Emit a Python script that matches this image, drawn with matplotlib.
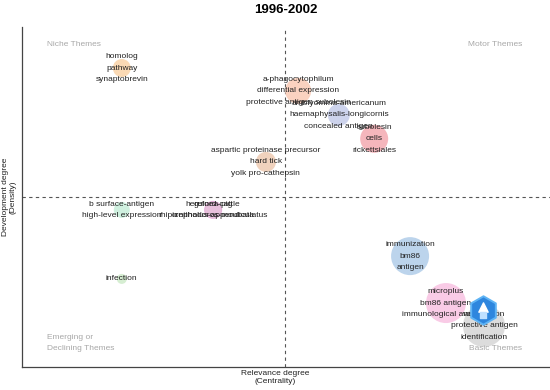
import matplotlib
matplotlib.use("Agg")
import matplotlib.pyplot as plt

plt.rcParams['font.family'] = ['Liberation Sans', 'DejaVu Sans']

title = "1996-2002"
# cluster centrality (x) and density (y)
centrality = [1.89, 5.23, 6.00, 6.67, 4.62, 1.89, 3.62, 3.62, 1.89, 7.35, 8.03, 8.75]
density = [8.79, 8.12, 7.41, 6.71, 6.03, 4.62, 4.62, 4.62, 2.59, 3.26, 1.88, 1.21]
bubble_size = [9, 13, 11, 14, 10, 8, 9, 8, 5, 19, 20, 21]
bubble_color = ['#fad9b4', '#fad2c0', '#cdd3ec', '#f5b6bc', '#f0d2bd', '#cff0df',
                '#e4b0d8', '#e8c0dc', '#d6eed2', '#bcd4ec', '#f9cbe6', '#dcdcdc']
cluster_labels = [
    ["homolog", "pathway", "synaptobrevin"],
    ["a-phagocytophilum", "differential expression", "protective antigen subolesin"],
    ["amblyomma-americanum", "haemaphysalis-longicornis", "concealed antigen"],
    ["subolesin", "cells", "rickettsiales"],
    ["aspartic proteinase precursor", "hard tick", "yolk pro-cathepsin"],
    ["b surface-antigen", "high-level expression"],
    ["hereford-cattle", "rhipicephalus-appendiculatus"],
    ["guinea-pig", "ornithodoros-moubata"],
    ["infection"],
    ["immunization", "bm86", "antigen"],
    ["microplus", "bm86 antigen", "immunological analysis"],
    ["vaccination", "protective antigen", "identification"],
]
x_mean = 4.98
y_mean = 5.0
quadrant_labels = ["Niche Themes", "Motor Themes", "Emerging or\nDeclining Themes", "Basic Themes"]

fig = plt.figure(figsize=(5.5, 3.9), dpi=100)
ax = fig.add_axes([0.04, 0.059, 0.96, 0.872])
ax.set_xlim(0, 10)
ax.set_ylim(0, 10)

for x, y, r, c in zip(centrality, density, bubble_size, bubble_color):
    ax.scatter([x], [y], s=(2 * r * 0.72) ** 2, color=c, edgecolors='none', zorder=2)

fs = 6.0
step = 0.345
for x, y, labs in zip(centrality, density, cluster_labels):
    n = len(labs)
    for i, t in enumerate(labs):
        yy = y + (n - 1) / 2 * step - i * step
        ax.text(x, yy, t, ha='center', va='center', fontsize=fs, color='#222222', zorder=3)

# logo-like hexagon marker
ax.scatter([8.73], [1.68], marker='h', s=420, color='#2e86de', edgecolors='#5fb4f5',
           linewidths=1.4, zorder=4)
ax.scatter([8.73], [1.77], marker='^', s=45, color='white', zorder=5)
ax.scatter([8.73], [1.53], marker='s', s=14, color='#bfe0ff', zorder=5)

ax.axvline(x_mean, color='#555555', linestyle=(0, (3, 3)), linewidth=0.8, zorder=1)
ax.axhline(y_mean, color='#555555', linestyle=(0, (3, 3)), linewidth=0.8, zorder=1)

qc = '#a8a8a8'
ax.text(0.47, 9.47, quadrant_labels[0], fontsize=fs, color=qc, ha='left', va='center')
ax.text(9.47, 9.47, quadrant_labels[1], fontsize=fs, color=qc, ha='right', va='center')
ax.text(0.47, 0.71, quadrant_labels[2], fontsize=fs, color=qc, ha='left', va='center',
        linespacing=1.75)
ax.text(9.47, 0.53, quadrant_labels[3], fontsize=fs, color=qc, ha='right', va='center')

for s in ['top', 'right']:
    ax.spines[s].set_visible(False)
for s in ['left', 'bottom']:
    ax.spines[s].set_color('#444444')
    ax.spines[s].set_linewidth(0.9)
ax.set_xticks([])
ax.set_yticks([])

fig.text(0.52, 0.974, title, ha='center', va='center', fontsize=9.5, fontweight='bold')
fig.text(0.5, 0.031, "Relevance degree\n(Centrality)", ha='center', va='center',
         fontsize=fs, color='#222222')
fig.text(0.017, 0.495, "Development degree\n(Density)", ha='center', va='center',
         fontsize=fs, color='#222222', rotation=90)

fig.savefig("out.png", dpi=100)
